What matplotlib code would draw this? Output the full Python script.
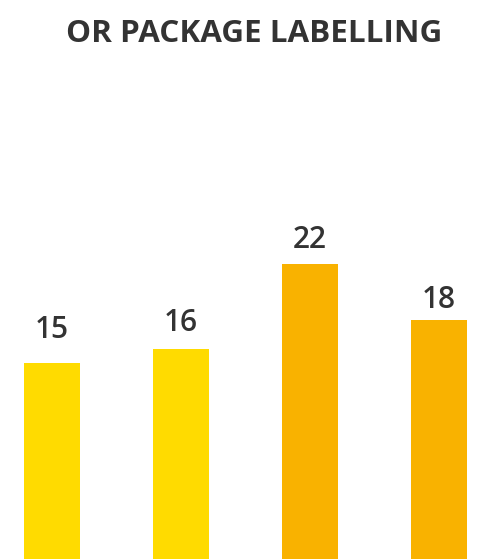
import matplotlib
matplotlib.use("Agg")
import matplotlib.pyplot as plt

categories = ["A", "B", "C", "D"]
values = [15, 16, 22, 18]
colors = ["#FFDB00", "#FFDB00", "#F9B200", "#F9B200"]
title = "OR PACKAGE LABELLING"
label_gaps = [25, 18, 16, 12]  # pixel gap between bar top and label baseline

W, H = 484, 559
fig = plt.figure(figsize=(W / 100, H / 100), dpi=100)
ax = fig.add_axes([0, 0, 1, 1])
x = list(range(len(categories)))
ax.bar(x, values, width=0.43, color=colors)
ppu = 14.14
ax.set_xlim(-52 / 129, (W - 52) / 129)
ax.set_ylim((575 - H) / ppu, 575 / ppu)
ax.axis("off")
for xi, v, g in zip(x, values, label_gaps):
    ax.annotate(str(v), (xi, v), xytext=(0, g), textcoords="offset pixels",
                ha="center", va="baseline", fontsize=21.5, fontweight="semibold",
                color="#333333", family=["Open Sans", "DejaVu Sans"])
fig.text(254 / W, 1 - 42 / H, title, ha="center", va="baseline", fontsize=22.6,
         fontweight="bold", color="#333333", family=["Open Sans", "DejaVu Sans"])
fig.savefig("out.png", dpi=100)
